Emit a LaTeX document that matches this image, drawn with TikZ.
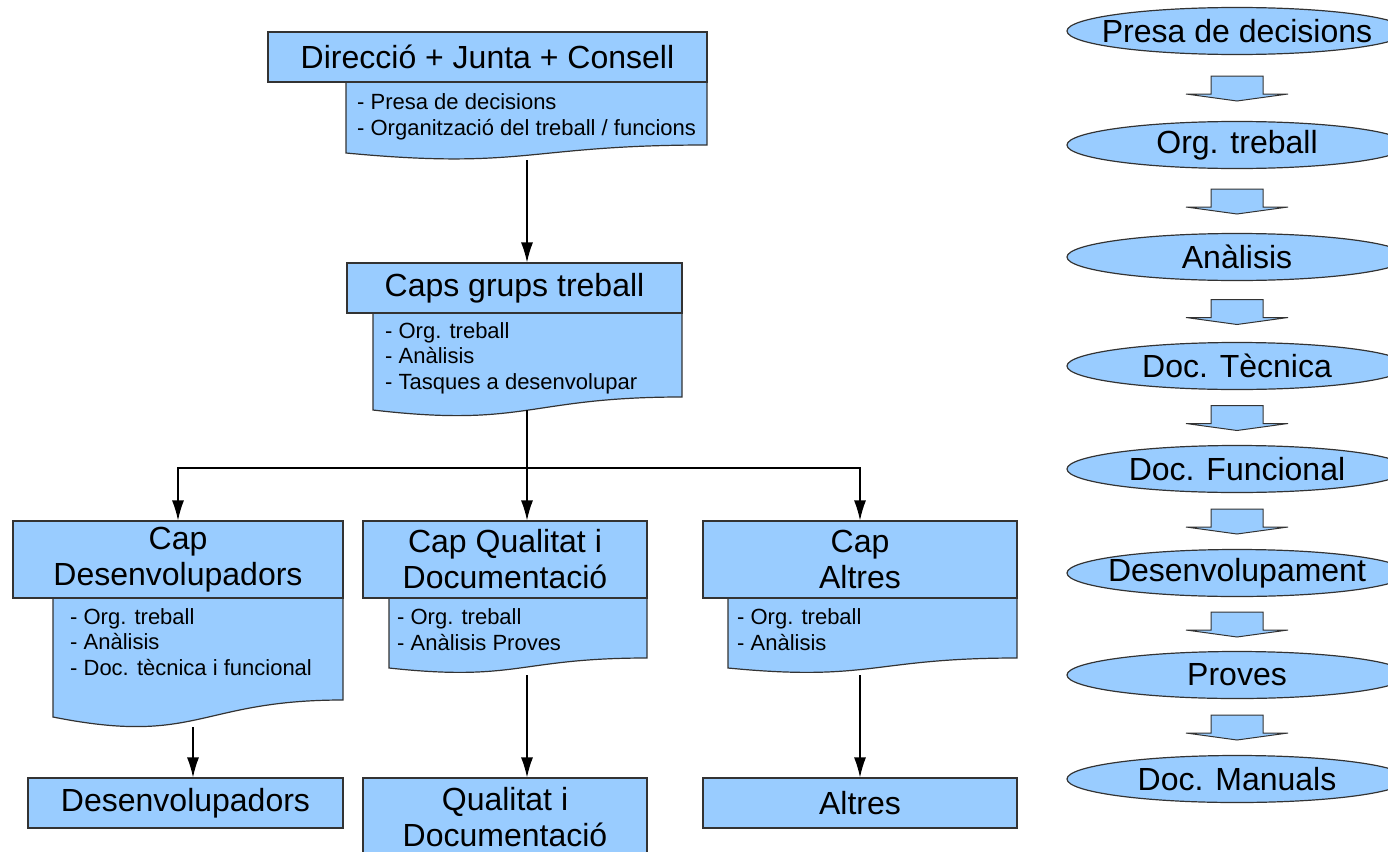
\documentclass[tikz,border=0pt]{standalone}
\usepackage{fontspec}
\setmainfont{Liberation Sans}
\usetikzlibrary{arrows.meta,shapes.geometric,calc}

\definecolor{boxblue}{HTML}{99CCFF}
\tikzset{
  box/.style={draw=black!80, fill=boxblue, line width=1.2pt},
  head/.style={box, inner sep=0pt, align=center, font=\fontsize{32}{36}\selectfont},
  notes/.style={anchor=west, inner sep=0pt, align=left, font=\fontsize{22}{25.5}\selectfont},
  stage/.style={box, ellipse, minimum width=340pt, minimum height=47pt, inner sep=0pt},
  stagetext/.style={inner sep=0pt, font=\fontsize{32}{36}\selectfont},
  link/.style={line width=1.2pt, -{Latex[length=20pt,width=12pt]}},
  downarrow/.pic={\draw[box, line width=1pt] (-26,-12) -- (26,-12) -- (26,6) -- (51,6) -- (0,13) -- (-51,6) -- (-26,6) -- cycle;}
}

\begin{document}
\begin{tikzpicture}[x=1pt,y=-1pt]
  \useasboundingbox (0,0) rectangle (1388,851);

  % document bodies
  \draw[box] (346,82) -- (346,153) .. controls (526,170) and (526,145) .. (707,145) -- (707,82);
  \draw[box] (373,313) -- (373,410) .. controls (527,428) and (527,397) .. (682,397) -- (682,313);
  \draw[box] (53,598) -- (53,717) .. controls (198,746) and (198,700) .. (343,700) -- (343,598);
  \draw[box] (389,598) -- (389,668) .. controls (518,682) and (518,658) .. (647,658) -- (647,598);
  \draw[box] (728,598) -- (728,668) .. controls (872,682) and (872,658) .. (1017,658) -- (1017,598);

  % headers
  \node[head, minimum width=439pt, minimum height=50pt] (dir) at (487.5,57) {Direcció + Junta + Consell};
  \node[head, minimum width=335pt, minimum height=50pt] (caps) at (514.5,288) {Caps grups treball};
  \node[head, minimum width=330pt, minimum height=77pt] (capdes) at (178,559.5) {Cap\\Desenvolupadors};
  \node[head, minimum width=284pt, minimum height=77pt] (capqua) at (505,559.5) {Cap Qualitat i\\Documentació};
  \node[head, minimum width=314pt, minimum height=77pt] (capalt) at (860,559.5) {Cap\\Altres};
  \node[head, minimum width=315pt, minimum height=50pt] (des) at (185.5,803) {Desenvolupadors};
  \node[head, minimum width=284pt, minimum height=79pt] (qua) at (505,817.5) {Qualitat i\\Documentació};
  \node[head, minimum width=314pt, minimum height=50pt] (alt) at (860,803) {Altres};

  % notes
  \node[notes] (dir-notes) at (357,117) {- Presa de decisions\\- Organització del treball / funcions};
  \node[notes] (caps-notes) at (385,358) {- Org. treball\\- Anàlisis\\- Tasques a desenvolupar};
  \node[notes] (capdes-notes) at (70,642) {- Org. treball\\- Anàlisis\\- Doc. tècnica i funcional};
  \node[notes] (capqua-notes) at (397,629.5) {- Org. treball\\- Anàlisis Proves};
  \node[notes] (capalt-notes) at (737,629.5) {- Org. treball\\- Anàlisis};

  \coordinate (dir-end) at (527,160);
  \coordinate (caps-end) at (527,410);
  \coordinate (split) at (527,468);
  \coordinate (capdes-end) at (193,727);
  \coordinate (capqua-end) at (527,675);
  \coordinate (capalt-end) at (860,675);

  \draw[link] (dir-end) -- (dir-end |- caps.north);
  \draw[line width=1.2pt] (caps-end) -- (split);
  \draw[link] (split) -| (capdes.north);
  \draw[link] (split) -- (split |- capqua.north);
  \draw[link] (split) -| (capalt.north);
  \draw[link] (capdes-end) -- (capdes-end |- des.north);
  \draw[link] (capqua-end) -- (capqua-end |- qua.north);
  \draw[link] (capalt-end) -- (capalt-end |- alt.north);

  % stages
  \foreach \y/\t [count=\i] in {31/Presa de decisions, 145/Org. treball, 257/Anàlisis,
      366/Doc. Tècnica, 469/Doc. Funcional, 573/Desenvolupament, 675/Proves, 779/Doc. Manuals}
    \node[stage, label={[stagetext]center:\t}] (s\i) at (1237,\y) {};
  \foreach \i in {1,...,7}{
    \pgfmathtruncatemacro\j{\i+1}
    \pic at ($(s\i.south)!0.5!(s\j.north)$) {downarrow};
  }
\end{tikzpicture}
\end{document}
